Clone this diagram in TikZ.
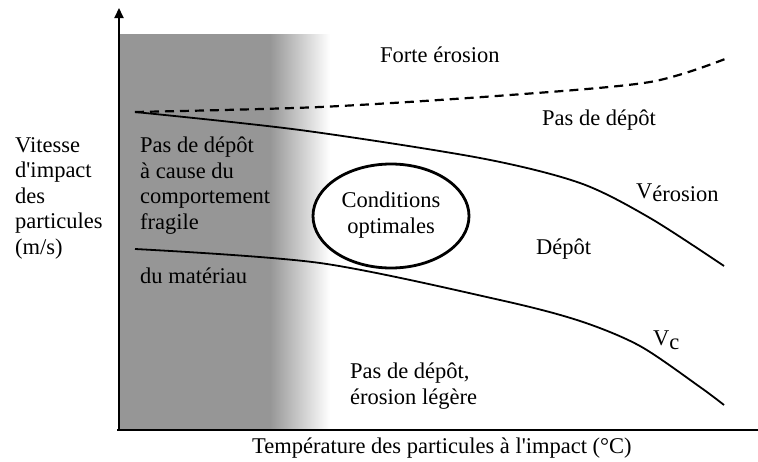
\documentclass[tikz,border=0pt]{standalone}
\usepackage{fontspec}
\setmainfont{Liberation Serif}
\usetikzlibrary{shapes.geometric,arrows.meta}

\definecolor{zonegray}{gray}{0.59}
\tikzstyle{txt} = [inner sep=0pt,font=\fontsize{22.5}{25.5}\selectfont,align=left]
\tikzstyle{axis} = [line width=2pt]
\tikzstyle{curve} = [line width=1.8pt]
\tikzstyle{zone} = [draw,ellipse,fill=white,line width=2.8pt,minimum width=156pt,minimum height=104pt]

\begin{document}
\begin{tikzpicture}[x=1pt,y=-1pt]
	\useasboundingbox (0,0) rectangle (758,461);

	\fill[zonegray] (120,34) rectangle (271,430);
	\shade[left color=zonegray,right color=white] (270,34) rectangle (330,430);

	\coordinate (o) at (119,430);
	\coordinate (ytop) at (119,8);
	\coordinate (xend) at (758,430);
	\draw[axis] (117,430) -- (xend);
	\draw[axis,-{Triangle[length=10pt,width=9pt]}] (o) -- (ytop);

	\coordinate (d1) at (135,112);
	\coordinate (d2) at (320,107);
	\coordinate (d3) at (510,95);
	\coordinate (d4) at (650,82);
	\coordinate (d5) at (725,59);
	\draw[curve,line width=2.2pt,dash pattern=on 9pt off 6pt] plot[smooth] coordinates {(d1) (d2) (d3) (d4) (d5)};

	\coordinate (e1) at (135,112);
	\coordinate (e2) at (300,130);
	\coordinate (e3) at (480,158);
	\coordinate (e4) at (580,183);
	\coordinate (e5) at (650,218);
	\coordinate (e6) at (724,266);
	\draw[curve] plot[smooth] coordinates {(e1) (e2) (e3) (e4) (e5) (e6)};

	\coordinate (c1) at (135,249);
	\coordinate (c2) at (320,263);
	\coordinate (c3) at (500,300);
	\coordinate (c4) at (580,321);
	\coordinate (c5) at (640,346);
	\coordinate (c6) at (700,387);
	\coordinate (c7) at (724,405);
	\draw[curve] plot[smooth] coordinates {(c1) (c2) (c3) (c4) (c5) (c6) (c7)};

	\node[zone] (opt) at (391,216) {};
	\node[txt,align=center] (optlbl) at (391,215) {Conditions\\optimales};

	\node[txt,anchor=west] (yl) at (15,198) {Vitesse\\d\textquotesingle impact\\des\\particules\\(m/s)};
	\node[txt,anchor=base west] (xl) at (252,453) {Température des particules à l\textquotesingle impact (°C)};

	\node[txt,anchor=west] (fragile) at (140,185.5) {Pas de dépôt\\à cause du\\comportement\\fragile};
	\node[txt,anchor=base west] (mat) at (140,283) {du matériau};

	\node[txt,anchor=base west] (forte) at (380,62) {Forte érosion};
	\node[txt,anchor=base west] (pasdep) at (542,125) {Pas de dépôt};
	\node[txt,anchor=base west] (verosion) at (636,198) {V\raisebox{-0.3ex}{érosion}};
	\node[txt,anchor=base west] (depot) at (536,254) {Dépôt};
	\node[txt,anchor=base west] (vc) at (653,345) {V\raisebox{-0.4ex}{c}};
	\node[txt,anchor=west] (legere) at (350,386) {Pas de dépôt,\\érosion légère};
\end{tikzpicture}
\end{document}
